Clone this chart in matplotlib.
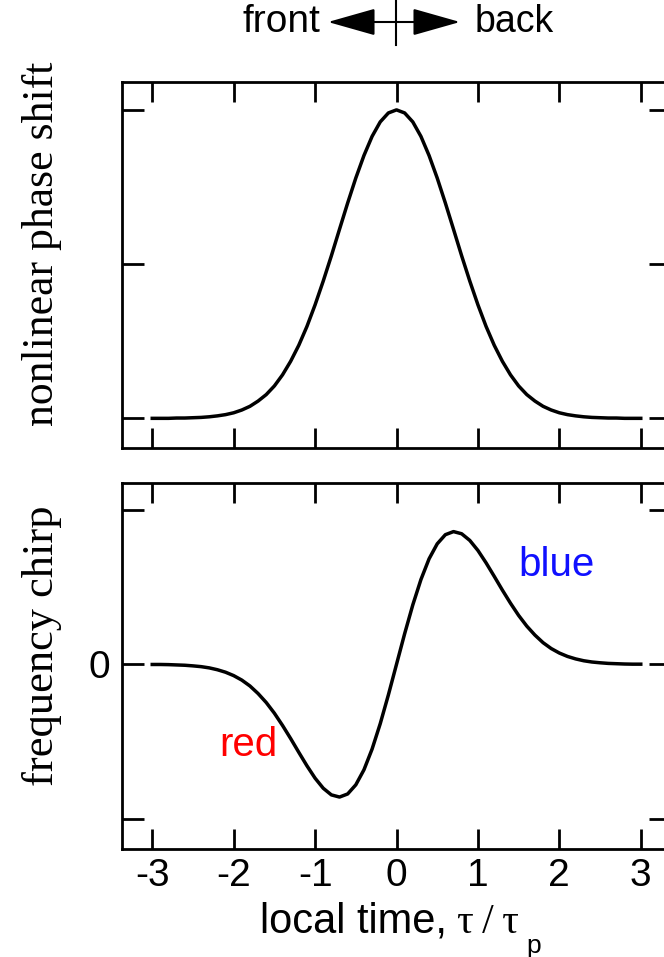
import numpy as np
import matplotlib
matplotlib.use("Agg")
import matplotlib.pyplot as plt
from matplotlib.lines import Line2D
from matplotlib.patches import FancyArrowPatch

plt.rcParams['font.family'] = ['Liberation Sans', 'DejaVu Sans']

# local time tau/tau_p, sampled every 0.1
t = np.linspace(-3, 3, 61)

# nonlinear phase shift (peak = 1)
phase = [0.000, 0.000, 0.000, 0.001, 0.001, 0.002, 0.003, 0.005, 0.008, 0.012,
         0.018, 0.027, 0.039, 0.056, 0.077, 0.105, 0.141, 0.185, 0.237, 0.298,
         0.368, 0.445, 0.527, 0.613, 0.698, 0.779, 0.852, 0.914, 0.961, 0.990,
         1.000,
         0.990, 0.961, 0.914, 0.852, 0.779, 0.698, 0.613, 0.527, 0.445, 0.368,
         0.298, 0.237, 0.185, 0.141, 0.105, 0.077, 0.056, 0.039, 0.027, 0.018,
         0.012, 0.008, 0.005, 0.003, 0.002, 0.001, 0.001, 0.000, 0.000, 0.000]

# frequency chirp
chirp = [-0.001, -0.001, -0.002, -0.004, -0.006, -0.010, -0.015, -0.023, -0.035, -0.051,
         -0.073, -0.102, -0.140, -0.189, -0.247, -0.316, -0.395, -0.480, -0.569, -0.656,
         -0.736, -0.801, -0.844, -0.858, -0.838, -0.779, -0.682, -0.548, -0.384, -0.198,
         0.000,
         0.198, 0.384, 0.548, 0.682, 0.779, 0.838, 0.858, 0.844, 0.801, 0.736,
         0.656, 0.569, 0.480, 0.395, 0.316, 0.247, 0.189, 0.140, 0.102, 0.073,
         0.051, 0.035, 0.023, 0.015, 0.010, 0.006, 0.004, 0.002, 0.001, 0.001]

xticks = [-3, -2, -1, 0, 1, 2, 3]
phase_ticks = [0, 0.5, 1]
chirp_ticks = [-1, 0, 1]
chirp_ticklabels = ['', '0', '']

W, H = 664, 957
fig = plt.figure(figsize=(W / 100, H / 100), dpi=100)
ax1 = fig.add_axes([0.1833, 0.5316, 0.8277, 0.3826])
ax2 = fig.add_axes([0.1833, 0.1125, 0.8277, 0.3831])

for ax in (ax1, ax2):
    for s in ax.spines.values():
        s.set_linewidth(2)
    ax.set_xlim(-3.375, 3.375)
    ax.set_xticks(xticks)
    ax.tick_params(axis='both', direction='in', top=True, right=True, width=2)
    ax.tick_params(axis='x', length=14.5)
    ax.tick_params(axis='y', length=15.5)

ax1.plot(t, phase, color='black', lw=2.5)
ax1.set_ylim(-0.097, 1.09)
ax1.set_yticks(phase_ticks)
ax1.set_yticklabels([])
ax1.set_xticklabels([])

ax2.plot(t, chirp, color='black', lw=2.5)
ax2.set_ylim(-1.196, 1.174)
ax2.set_yticks(chirp_ticks)
ax2.set_yticklabels(chirp_ticklabels)
ax2.set_xticklabels([str(v) for v in xticks])
ax2.tick_params(axis='both', labelsize=28)
ax2.tick_params(axis='x', pad=6.5)
ax2.tick_params(axis='y', pad=8)

ax2.text(-1.82, -0.52, 'red', color='#ff0000', fontsize=29, ha='center', va='center')
ax2.text(1.97, 0.64, 'blue', color='#1010ff', fontsize=29, ha='center', va='center')

# x label: sans text, serif tau, small sans p lowered
base = 1 - 933 / H
fig.text(260 / W, base, 'local time,', fontsize=30, ha='left', va='baseline')
fig.text(457 / W, base, 'τ\u2009/\u2009τ', family=['Liberation Serif', 'DejaVu Serif'],
         fontsize=30, ha='left', va='baseline')
fig.text(526 / W, 1 - 953 / H, 'p', fontsize=19, ha='left', va='baseline')

fig.text(0.063, 1 - 243.5 / H, 'nonlinear phase shift', family='Liberation Serif',
         fontsize=31.5, rotation=90, ha='center', va='center')
fig.text(0.063, 1 - 646 / H, 'frequency chirp', family='Liberation Serif',
         fontsize=32, rotation=90, ha='center', va='center')

# front / back arrow above the plot
ay = 1 - 22 / H
fig.text(320 / W, ay, 'front', fontsize=28, ha='right', va='center')
fig.text(475 / W, ay, 'back', fontsize=27, ha='left', va='center')
fig.patches.append(FancyArrowPatch(
    (328 / W, ay), (460 / W, ay), transform=fig.transFigure,
    arrowstyle='<|-|>,head_length=3.0,head_width=0.85', mutation_scale=10,
    color='black', lw=1.5, shrinkA=0, shrinkB=0))
fig.lines.append(Line2D([396 / W, 396 / W], [1.0, 1 - 45 / H],
                        transform=fig.transFigure, color='black', lw=1.5))

fig.savefig('out.png', dpi=100)
